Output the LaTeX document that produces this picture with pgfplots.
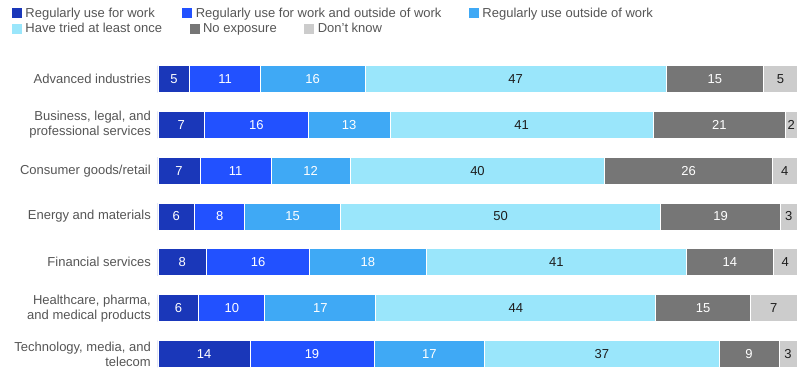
\documentclass[border=0pt]{standalone}
\usepackage{fontspec}
\setmainfont{Liberation Sans}
\usepackage{pgfplots}
\usepackage{pgfplotstable}
\pgfplotsset{compat=1.18}
\definecolor{c1}{HTML}{1A37B9}
\definecolor{c2}{HTML}{2251FF}
\definecolor{c3}{HTML}{3FA9F5}
\definecolor{c4}{HTML}{9AE6FB}
\definecolor{c5}{HTML}{767676}
\definecolor{c6}{HTML}{CCCCCC}
\definecolor{labelgrey}{HTML}{555555}
\definecolor{numdark}{HTML}{1E1E1E}
\pgfplotstableread{
idx cA cB cC cD cE cF
0 5.0 11.0 16.4 47.1 15.3 5.2
1 7.3 16.2 12.8 41.2 20.7 1.8
2 6.6 11.1 12.4 39.8 26.3 3.8
3 5.7 7.9 14.9 50.2 18.7 2.6
4 7.6 16.1 18.3 40.7 13.6 3.7
5 6.4 10.3 17.4 43.8 14.8 7.3
6 14.4 19.4 17.3 36.7 9.4 2.8
}\data
\pgfplotsset{
  seg/.style={draw=white, line width=0.9pt},
  legaxis/.style={
    at={(0pt,0pt)}, anchor=south west, scale only axis, width=10pt, height=10pt,
    hide axis, xmin=0, xmax=1, ymin=0, ymax=1,
    legend image code/.code={\fill[##1, draw=none] (0pt,-5pt) rectangle (10pt,5pt);},
    legend columns=-1,
    legend style={draw=none, fill=none, inner sep=0pt, outer sep=0pt,
      font=\fontsize{13}{15}\selectfont, text=labelgrey,
      nodes={inner sep=1.5pt},
      /tikz/every odd column/.append style={column sep=2pt},
      /tikz/every even column/.append style={column sep=26pt}},
    legend cell align=left},
}
\begin{document}
\begin{tikzpicture}
\useasboundingbox (0,0) rectangle (812pt,376pt);
\coordinate (L1) at (12pt,362.5pt);
\coordinate (L2) at (12pt,347pt);
\begin{axis}[
  at={(158pt,-0.9pt)}, anchor=south west,
  scale only axis, width=639pt, height=320.8pt,
  xbar stacked, bar width=27pt,
  xmin=0, xmax=100, ymin=-0.5, ymax=6.5, y dir=reverse,
  axis line style={draw=none}, tick style={draw=none},
  xtick=\empty, ytick={0,...,6},
  yticklabels={Advanced industries,{Business, legal, and\\professional services},Consumer goods/retail,Energy and materials,Financial services,{Healthcare, pharma,\\and medical products},{Technology, media, and\\telecom}},
  yticklabel style={align=right, font=\fontsize{13}{15}\selectfont, text=labelgrey, inner sep=0pt, xshift=-7pt},
  clip=false,
  point meta=explicit,
  nodes near coords={\pgfmathprintnumber[fixed,precision=0]{\pgfplotspointmeta}},
  /pgf/number format/assume math mode=true,
  every node near coord/.append style={font=\fontsize{13}{15}\selectfont, anchor=center},
]
\addplot[seg, fill=c1, every node near coord/.append style={text=white}] table[x=cA, y=idx, meta=cA] {\data};
\addplot[seg, fill=c2, every node near coord/.append style={text=white}] table[x=cB, y=idx, meta=cB] {\data};
\addplot[seg, fill=c3, every node near coord/.append style={text=white}] table[x=cC, y=idx, meta=cC] {\data};
\addplot[seg, fill=c4, every node near coord/.append style={text=numdark}] table[x=cD, y=idx, meta=cD] {\data};
\addplot[seg, fill=c5, every node near coord/.append style={text=white}] table[x=cE, y=idx, meta=cE] {\data};
\addplot[seg, fill=c6, every node near coord/.append style={text=numdark}] table[x=cF, y=idx, meta=cF] {\data};
\end{axis}
\begin{axis}[legaxis, legend style={at={(L1)}, anchor=west}]
\addlegendimage{fill=c1}
\addlegendentry{Regularly use for work}
\addlegendimage{fill=c2}
\addlegendentry{Regularly use for work and outside of work}
\addlegendimage{fill=c3}
\addlegendentry{Regularly use outside of work}
\end{axis}
\begin{axis}[legaxis, legend style={at={(L2)}, anchor=west}]
\addlegendimage{fill=c4}
\addlegendentry{Have tried at least once}
\addlegendimage{fill=c5}
\addlegendentry{No exposure}
\addlegendimage{fill=c6}
\addlegendentry{Don't know}
\end{axis}
\end{tikzpicture}
\end{document}
